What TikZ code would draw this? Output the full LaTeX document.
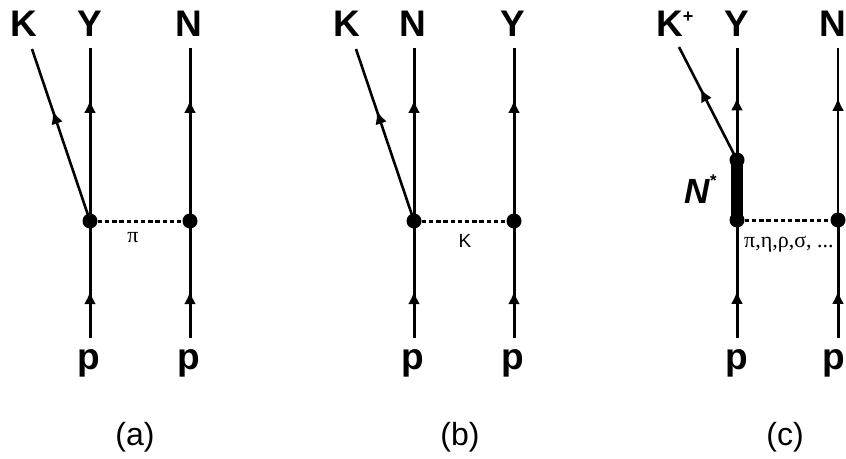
\documentclass[tikz,border=0pt]{standalone}
\usepackage{fontspec}
\setmainfont{Liberation Sans}
\newfontfamily\serifx{Liberation Serif}
\usetikzlibrary{arrows.meta,decorations.markings}
\begin{document}
\begin{tikzpicture}[x=1pt,y=-1pt,
  tip/.tip={Latex[length=13pt,width=12pt]},
  fermion/.style={line width=3pt, postaction={decorate},
    decoration={markings, mark=at position #1 with {\arrow{tip}}}},
  kaon/.style={line width=2.6pt, postaction={decorate},
    decoration={markings, mark=at position #1 with {\arrow{tip}}}},
  vtx/.style={circle, fill=black, inner sep=0pt, minimum size=15pt},
  exch/.style={line width=3pt, dash pattern=on 4.5pt off 2.7pt},
  big/.style={font=\fontsize{37}{37}\selectfont\bfseries, inner sep=0pt, anchor=base},
  captxt/.style={font=\fontsize{32}{32}\selectfont, inner sep=0pt, anchor=base},
  smalltxt/.style={font=\fontsize{19}{19}\selectfont, inner sep=0pt, anchor=base}]
\useasboundingbox (0,0) rectangle (846,458);

% ---------- (a)
\node[big] (aK) at (24,36) {K};
\node[big] (aY) at (90,36) {Y};
\node[big] (aN) at (189,36) {N};
\node[big] (ap1) at (89,369) {p};
\node[big] (ap2) at (189,369) {p};
\node[captxt] (acap) at (135,445) {(a)};
\coordinate (aKt) at (32,49);
\coordinate (aYt) at (90,48);
\coordinate (aNt) at (190,48);
\coordinate (aYb) at (90,338);
\coordinate (aNb) at (190,338);
\node[vtx] (av1) at (90,221) {};
\node[vtx] (av2) at (190,221) {};
\draw[fermion=0.40] (aYb) -- (av1.center);
\draw[fermion=0.40] (aNb) -- (av2.center);
\draw[fermion=0.70] (av1.center) -- (aYt);
\draw[fermion=0.70] (av2.center) -- (aNt);
\draw[kaon=0.64] (av1.center) -- (aKt);
\draw[exch] (av1) -- (av2);
\node[font=\serifx\fontsize{22}{22}\selectfont, inner sep=0pt, anchor=base] (api) at (133,242) {π};

% ---------- (b)
\node[big] (bK) at (347,36) {K};
\node[big] (bN) at (413,36) {N};
\node[big] (bY) at (513,36) {Y};
\node[big] (bp1) at (413,369) {p};
\node[big] (bp2) at (513,369) {p};
\node[captxt] (bcap) at (460,445) {(b)};
\coordinate (bKt) at (356,49);
\coordinate (bNt) at (414,48);
\coordinate (bYt) at (514,48);
\coordinate (bNb) at (414,338);
\coordinate (bYb) at (514,338);
\node[vtx] (bv1) at (414,221) {};
\node[vtx] (bv2) at (514,221) {};
\draw[fermion=0.40] (bNb) -- (bv1.center);
\draw[fermion=0.40] (bYb) -- (bv2.center);
\draw[fermion=0.70] (bv1.center) -- (bNt);
\draw[fermion=0.70] (bv2.center) -- (bYt);
\draw[kaon=0.64] (bv1.center) -- (bKt);
\draw[exch] (bv1) -- (bv2);
\node[smalltxt] (bk) at (465,247) {K};

% ---------- (c)
\node[big, anchor=base west] (cK) at (656,36) {K\raisebox{14pt}{\fontsize{18}{18}\selectfont +}};
\node[big] (cY) at (737,36) {Y};
\node[big] (cN) at (833,36) {N};
\node[big] (cp1) at (737,369) {p};
\node[big] (cp2) at (834,369) {p};
\node[captxt] (ccap) at (785,445) {(c)};
\coordinate (cKt) at (679,47);
\coordinate (cYt) at (737,48);
\coordinate (cNt) at (838,48);
\coordinate (cYb) at (737,338);
\coordinate (cNb) at (838,338);
\node[vtx] (cv0) at (737,160) {};
\node[vtx] (cv1) at (737,220) {};
\node[vtx] (cv2) at (838,220) {};
\draw[fermion=0.40] (cYb) -- (cv1.center);
\draw[fermion=0.40] (cNb) -- (cv2.center);
\draw[line width=12pt] (cv0.center) -- (cv1.center);
\draw[fermion=0.56] (cv0.center) -- (cYt);
\draw[line width=2.4pt, postaction={decorate},
    decoration={markings, mark=at position 0.71 with {\arrow{tip}}}] (cv2.center) -- (cNt);
\draw[kaon=0.63] (cv0.center) -- (cKt);
\draw[exch] (cv1) -- (cv2);
\node[font=\fontsize{35}{35}\selectfont\bfseries\itshape, inner sep=0pt, anchor=base west] (cNs) at (684,203) {N\raisebox{17pt}{\fontsize{17}{17}\selectfont *}};
\node[font=\serifx\fontsize{22}{22}\selectfont, inner sep=0pt, anchor=base west] (clab) at (744,247) {π,η,ρ,σ, ...};
\end{tikzpicture}
\end{document}
